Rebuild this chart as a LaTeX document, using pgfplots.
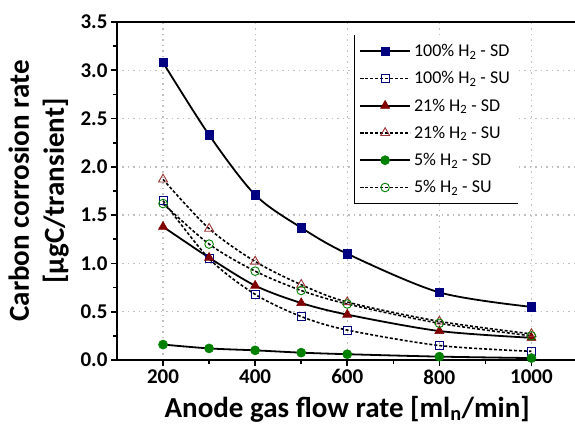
\documentclass[border=0pt]{standalone}
\usepackage{pgfplots}
\pgfplotsset{compat=1.18}
\usepackage{fontspec}
\setmainfont{Carlito}

\definecolor{navyblue}{RGB}{0,0,128}
\definecolor{darkred}{RGB}{128,0,0}
\definecolor{darkgreen}{RGB}{0,128,0}

% Carbon corrosion per transient vs. anode gas flow rate
\pgfplotstableread{
flow  hSD   hSU   mSD   mSU   lSD    lSU
200   3.08  1.65  1.38  1.87  0.160  1.62
300   2.33  1.05  1.06  1.36  0.120  1.20
400   1.71  0.68  0.77  1.02  0.100  0.92
500   1.37  0.45  0.59  0.78  0.076  0.72
600   1.10  0.31  0.47  0.60  0.060  0.58
800   0.70  0.15  0.30  0.40  0.035  0.38
1000  0.55  0.09  0.23  0.27  0.020  0.25
}\corrosion

\begin{document}
\begin{tikzpicture}
\begin{axis}[
  at={(0,0)}, anchor=south west,
  scale only axis,
  width=460.5pt, height=338pt,
  xmin=100, xmax=1100, ymin=0, ymax=3.5,
  xtick={200,400,...,1000},
  minor xtick={300,500,700,900},
  ytick={0,0.5,...,3.5},
  minor ytick={0.25,0.75,...,3.25},
  tick align=outside,
  major tick length=6pt, minor tick length=4pt,
  tick style={line width=1.6pt, black},
  axis line style={line width=2pt},
  xtick pos=bottom, ytick pos=left,
  grid=major,
  major grid style={gray!50, line width=1.3pt, dash pattern=on 1.5pt off 4pt},
  ticklabel style={font=\fontsize{21}{23}\selectfont\bfseries},
  /pgf/number format/assume math mode=true,
  yticklabel style={/pgf/number format/.cd, fixed, fixed zerofill, precision=1},
  xticklabel style={/pgf/number format/.cd, fixed, set thousands separator={}},
  xlabel={Anode gas flow rate [ml\textsubscript{n}/min]},
  ylabel={Carbon corrosion rate\\{}[µgC/transient]},
  label style={font=\fontsize{29}{35}\selectfont\bfseries, align=center},
  xlabel style={yshift=-5pt},
  ylabel style={yshift=5pt},
  legend cell align=left,
  legend style={
    at={(rel axis cs:0.5147,0.9615)}, anchor=north west,
    draw=none, fill=white,
    font=\fontsize{18}{21}\selectfont,
    inner xsep=5pt, inner ysep=7pt,
    row sep=9.5pt,
    nodes={inner xsep=3pt},
    path picture={\draw[line width=1.6pt] (path picture bounding box.north west)
      -- (path picture bounding box.south west) -- (path picture bounding box.south east);},
  },
  legline/.style={legend image code/.code={
    \draw[mark repeat=2,mark phase=2] plot coordinates {(0pt,0pt) (25pt,0pt) (50pt,0pt)};}},
  sdline/.style={black, line width=1.8pt, smooth, tension=0.5, legline},
  suline/.style={black, line width=1.6pt, dash pattern=on 3pt off 2pt, smooth, tension=0.5, legline},
]
\addplot[sdline, mark=square*, mark size=4.2pt,
  mark options={solid, fill=navyblue, draw=navyblue, line width=0.6pt}]
  table[x=flow, y=hSD] {\corrosion};
\addlegendentry{100\% H\textsubscript{2} - SD}
\addplot[suline, mark=square, mark size=4pt,
  mark options={solid, draw=navyblue, fill=white, line width=1pt}]
  table[x=flow, y=hSU] {\corrosion};
\addlegendentry{100\% H\textsubscript{2} - SU}
\addplot[sdline, mark=triangle*, mark size=5.2pt,
  mark options={solid, fill=darkred, draw=darkred, line width=0.6pt}]
  table[x=flow, y=mSD] {\corrosion};
\addlegendentry{21\% H\textsubscript{2} - SD}
\addplot[suline, mark=triangle, mark size=5.2pt,
  mark options={solid, draw=darkred!80, fill=white, line width=0.9pt}]
  table[x=flow, y=mSU] {\corrosion};
\addlegendentry{21\% H\textsubscript{2} - SU}
\addplot[sdline, mark=*, mark size=4.5pt,
  mark options={solid, fill=darkgreen, draw=darkgreen, line width=0.6pt}]
  table[x=flow, y=lSD] {\corrosion};
\addlegendentry{5\% H\textsubscript{2} - SD}
\addplot[suline, mark=o, mark size=4.3pt,
  mark options={solid, draw=darkgreen, fill=white, line width=0.9pt}]
  table[x=flow, y=lSU] {\corrosion};
\addlegendentry{5\% H\textsubscript{2} - SU}
\end{axis}
\pgfresetboundingbox
\path[use as bounding box] (-117pt,-68pt) rectangle (458pt,360pt);
\end{tikzpicture}
\end{document}
